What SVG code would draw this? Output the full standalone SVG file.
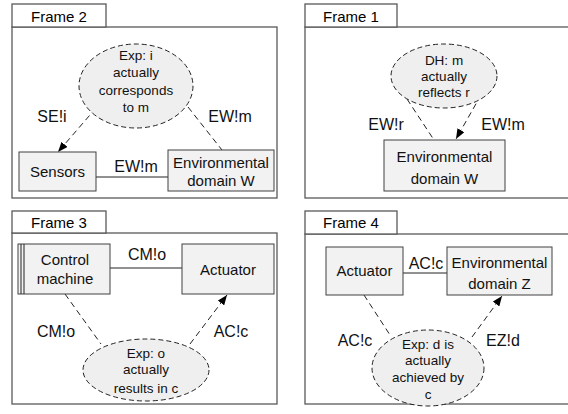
<svg xmlns="http://www.w3.org/2000/svg" width="568" height="414" viewBox="0 0 568 414">
<defs>
<style>
.frame{fill:#fff;stroke:#595959;stroke-width:1.3}
.box{fill:#f2f2f2;stroke:#404040;stroke-width:1}
.ell{fill:#efefef;stroke:#222;stroke-width:1;stroke-dasharray:5,3}
.dash{fill:none;stroke:#222;stroke-width:1;stroke-dasharray:6,4}
.solid{fill:none;stroke:#222;stroke-width:1}
.t{font-family:"Liberation Sans",Arial,sans-serif;font-size:15px;fill:#111;text-anchor:middle}
.l{font-family:"Liberation Sans",Arial,sans-serif;font-size:16px;fill:#111;text-anchor:middle}
.e{font-family:"Liberation Sans",Arial,sans-serif;font-size:13.5px;fill:#111;text-anchor:middle}
.f{font-family:"Liberation Sans",Arial,sans-serif;font-size:15px;fill:#000;text-anchor:middle}
</style>
<marker id="arr" viewBox="0 0 10 8" refX="10" refY="4" markerWidth="10" markerHeight="8" markerUnits="userSpaceOnUse" orient="auto">
<path d="M0,0 L10,4 L0,8 z" fill="#000"/>
</marker>
</defs>

<g id="frame2">
<rect class="frame" x="12" y="27" width="265" height="171"/>
<rect class="frame" x="12" y="4" width="94" height="23"/>
<text class="f" x="59" y="22">Frame 2</text>
</g>
<g id="frame1">
<rect class="frame" x="305" y="27" width="268" height="171"/>
<rect class="frame" x="305" y="4" width="92" height="23"/>
<text class="f" x="351" y="22">Frame 1</text>
</g>
<g id="frame3">
<rect class="frame" x="12" y="233" width="265" height="171"/>
<rect class="frame" x="12" y="211" width="94" height="22"/>
<text class="f" x="59" y="228">Frame 3</text>
</g>
<g id="frame4">
<rect class="frame" x="305" y="234" width="268" height="170"/>
<rect class="frame" x="305" y="211" width="92" height="23"/>
<text class="f" x="351" y="228">Frame 4</text>
</g>

<g id="connectors">
<line class="solid" x1="96" y1="177" x2="168" y2="177"/>
<line class="dash" x1="96" y1="108" x2="58" y2="152" marker-end="url(#arr)"/>
<line class="dash" x1="188" y1="107" x2="222" y2="150"/>
<line class="dash" x1="407" y1="99" x2="434" y2="140"/>
<line class="dash" x1="481" y1="95" x2="456" y2="139" marker-end="url(#arr)"/>
<line class="solid" x1="110" y1="268" x2="182" y2="268"/>
<line class="dash" x1="65" y1="294" x2="101" y2="344"/>
<line class="dash" x1="190" y1="344" x2="227" y2="295" marker-end="url(#arr)"/>
<line class="solid" x1="403" y1="273" x2="447" y2="273"/>
<line class="dash" x1="364" y1="295" x2="390" y2="335"/>
<line class="dash" x1="472" y1="337" x2="502" y2="296" marker-end="url(#arr)"/>
<text class="l" x="52" y="122">SE!i</text>
<text class="l" x="230" y="122">EW!m</text>
<text class="l" x="136" y="172">EW!m</text>
<text class="l" x="386" y="130">EW!r</text>
<text class="l" x="503" y="130">EW!m</text>
<text class="l" x="147" y="260">CM!o</text>
<text class="l" x="56" y="337">CM!o</text>
<text class="l" x="231" y="337">AC!c</text>
<text class="l" x="426" y="269">AC!c</text>
<text class="l" x="355" y="346">AC!c</text>
<text class="l" x="503" y="346">EZ!d</text>
</g>

<g id="exp-f2">
<ellipse class="ell" cx="136" cy="86" rx="57" ry="42"/>
<text class="e" x="136" y="60">Exp: i</text>
<text class="e" x="136" y="77">actually</text>
<text class="e" x="136" y="95">corresponds</text>
<text class="e" x="136" y="112">to m</text>
</g>
<g id="sensors">
<rect class="box" x="19" y="152" width="77" height="39"/>
<text class="t" x="57.5" y="177">Sensors</text>
</g>
<g id="envW-f2">
<rect class="box" x="168" y="150" width="106" height="41"/>
<text class="t" x="221" y="168">Environmental</text>
<text class="t" x="221" y="186">domain W</text>
</g>

<g id="dh-f1">
<ellipse class="ell" cx="444" cy="76" rx="53" ry="32"/>
<text class="e" x="444" y="65">DH: m</text>
<text class="e" x="444" y="81">actually</text>
<text class="e" x="444" y="97">reflects r</text>
</g>
<g id="envW-f1">
<rect class="box" x="384" y="140" width="121" height="51"/>
<text class="t" x="444.5" y="162">Environmental</text>
<text class="t" x="444.5" y="184">domain W</text>
</g>

<g id="control-machine">
<rect class="box" x="18" y="244" width="92" height="50"/>
<line class="solid" x1="21" y1="244" x2="21" y2="294"/>
<line class="solid" x1="24" y1="244" x2="24" y2="294"/>
<text class="t" x="65" y="265">Control</text>
<text class="t" x="65" y="284">machine</text>
</g>
<g id="actuator-f3">
<rect class="box" x="182" y="244" width="92" height="50"/>
<text class="t" x="228" y="275">Actuator</text>
</g>
<g id="exp-f3">
<ellipse class="ell" cx="146" cy="370" rx="63" ry="31"/>
<text class="e" x="146" y="358">Exp: o</text>
<text class="e" x="146" y="374">actually</text>
<text class="e" x="146" y="393">results in c</text>
</g>

<g id="actuator-f4">
<rect class="box" x="326" y="247" width="77" height="48"/>
<text class="t" x="364.5" y="276">Actuator</text>
</g>
<g id="envZ">
<rect class="box" x="447" y="247" width="105" height="48"/>
<text class="t" x="499.5" y="268">Environmental</text>
<text class="t" x="499.5" y="289">domain Z</text>
</g>
<g id="exp-f4">
<ellipse class="ell" cx="428" cy="368" rx="56" ry="38"/>
<text class="e" x="428" y="349">Exp: d is</text>
<text class="e" x="428" y="365">actually</text>
<text class="e" x="428" y="382">achieved by</text>
<text class="e" x="428" y="399">c</text>
</g>
</svg>
